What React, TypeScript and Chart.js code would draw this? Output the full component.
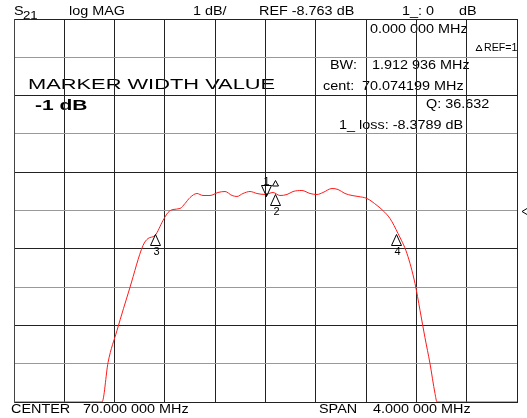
import React, { useEffect, useRef } from "react";
import { Chart, registerables } from "chart.js";

Chart.register(...registerables);

// Trace: frequency (MHz) and magnitude (dB)
const FREQ_MHZ = [
  68.0, 68.7, 68.748, 68.819, 68.922, 69.026, 69.066, 69.121, 69.185, 69.225,
  69.264, 69.32, 69.36, 69.4, 69.455, 69.503, 69.559, 69.622, 69.678, 69.734,
  69.773, 69.821, 69.877, 69.932, 69.996, 70.06, 70.115, 70.171, 70.219, 70.29,
  70.354, 70.41, 70.457, 70.529, 70.577, 70.632, 70.688, 70.736, 70.807, 70.887,
  70.934, 70.99, 71.054, 71.125, 71.189, 71.229, 71.268, 71.308, 71.348, 71.364,
  72.0,
];
const TRACE_DB = [
  -13.763, -13.763, -12.732, -11.896, -10.773, -9.677, -9.494, -9.416, -9.024, -8.815,
  -8.737, -8.711, -8.58, -8.424, -8.319, -8.371, -8.371, -8.293, -8.267, -8.371,
  -8.397, -8.319, -8.267, -8.319, -8.345, -8.293, -8.371, -8.345, -8.267, -8.241,
  -8.319, -8.345, -8.293, -8.189, -8.215, -8.319, -8.371, -8.397, -8.45, -8.632,
  -8.763, -8.972, -9.364, -9.886, -10.669, -11.374, -12.079, -12.758, -13.541, -13.763,
  -13.763,
];

// Markers
const MARKER_LABELS = ["1", "2", "3", "4"];
const MARKER_FREQ = [70.0, 70.074199, 69.118, 71.04];
const MARKER_DB = [-8.3789, -8.33, -9.3789, -9.3789];

// Axes
const REF_DB = -8.763;
const X_TICKS = [68.0, 68.4, 68.8, 69.2, 69.6, 70.0, 70.4, 70.8, 71.2, 71.6, 72.0];
const Y_TICKS = [-13.763, -12.763, -11.763, -10.763, -9.763, -8.763, -7.763, -6.763, -5.763, -4.763, -3.763];

// Texts
const HEADER_TEXTS = ["log MAG", "1 dB/", "REF -8.763 dB", "1_: 0", "dB"];
const INFO_TEXTS = [
  "0.000 000 MHz",
  "BW:",
  "1.912 936 MHz",
  "cent:",
  "70.074199 MHz",
  "Q: 36.632",
  "1_ loss: -8.3789 dB",
];
const REF_LABEL = "REF=1";
const FOOTER_TEXTS = ["CENTER", "70.000 000 MHz", "SPAN", "4.000 000 MHz"];

const FONT = '"Liberation Sans", Arial, sans-serif';

function txt(
  ctx: CanvasRenderingContext2D,
  s: string,
  x: number,
  y: number,
  size: number,
  sx = 1.2,
  weight = "normal"
) {
  ctx.save();
  ctx.font = `${weight} ${size}px ${FONT}`;
  ctx.fillStyle = "#000";
  ctx.textBaseline = "alphabetic";
  ctx.textAlign = "left";
  ctx.translate(x, y);
  ctx.scale(sx, 1);
  ctx.fillText(s, 0, 0);
  ctx.restore();
}

function drawSmallDelta(ctx: CanvasRenderingContext2D, cx: number, by: number) {
  ctx.save();
  ctx.strokeStyle = "#000";
  ctx.lineWidth = 1;
  ctx.beginPath();
  ctx.moveTo(cx - 3, by - 0.5);
  ctx.lineTo(cx + 3, by - 0.5);
  ctx.lineTo(cx, by - 6);
  ctx.closePath();
  ctx.stroke();
  ctx.restore();
}

const textPlugin = {
  id: "texts",
  beforeDraw(chart: any) {
    const ctx: CanvasRenderingContext2D = chart.ctx;
    // header
    txt(ctx, "S", 14, 15, 12);
    txt(ctx, "21", 23, 19, 11);
    const hx = [69, 193, 259, 402, 459];
    HEADER_TEXTS.forEach((t, i) => txt(ctx, t, hx[i], 15, 12));
    // info block
    const pos = [
      [370, 33],
      [330, 69],
      [372, 69],
      [323, 90],
      [362, 90],
      [426, 108],
      [339, 129],
    ];
    INFO_TEXTS.forEach((t, i) => txt(ctx, t, pos[i][0], pos[i][1], 12));
    drawSmallDelta(ctx, 479, 51);
    txt(ctx, REF_LABEL, 484, 51, 11, 0.97);
    // big texts
    txt(ctx, "MARKER WIDTH VALUE", 28, 89, 14, 1.56);
    txt(ctx, "-1 dB", 35, 110, 14, 1.5, "bold");
    // footer
    const fx = [11, 83, 319, 373];
    FOOTER_TEXTS.forEach((t, i) => txt(ctx, t, fx[i], 413, 12));
  },
};

const markerPlugin = {
  id: "markers",
  afterDatasetsDraw(chart: any) {
    const ctx: CanvasRenderingContext2D = chart.ctx;
    const xs = chart.scales.x;
    const ys = chart.scales.y;
    ctx.save();
    ctx.strokeStyle = "#000";
    ctx.lineWidth = 1;
    MARKER_LABELS.forEach((lab, i) => {
      const px = Math.round(xs.getPixelForValue(MARKER_FREQ[i])) + 0.5;
      const py = Math.round(ys.getPixelForValue(MARKER_DB[i])) + 0.5;
      ctx.beginPath();
      if (i === 0) {
        ctx.moveTo(px, py);
        ctx.lineTo(px - 5, py - 11);
        ctx.lineTo(px + 5, py - 11);
        ctx.closePath();
        ctx.stroke();
        ctx.fillStyle = "#000";
        ctx.fillRect(px - 1.5, py - 3, 2, 3);
        txt(ctx, lab, px - 3, py - 12, 11, 1.0);
        drawSmallDelta(ctx, px + 9, py - 10);
      } else {
        ctx.moveTo(px, py);
        ctx.lineTo(px - 5, py + 11);
        ctx.lineTo(px + 5, py + 11);
        ctx.closePath();
        ctx.stroke();
        txt(ctx, lab, px - 2, py + 20, 11, 1.0);
      }
    });
    // reference position indicator on right edge
    const ry = Math.round(ys.getPixelForValue(REF_DB)) + 0.5;
    const rx = chart.chartArea.right + 5;
    ctx.beginPath();
    ctx.moveTo(rx + 5, ry - 3);
    ctx.lineTo(rx, ry);
    ctx.lineTo(rx + 5, ry + 3);
    ctx.stroke();
    ctx.restore();
  },
};

export default function App() {
  const ref = useRef<HTMLCanvasElement | null>(null);
  useEffect(() => {
    document.body.style.margin = "0";
    const canvas = ref.current!;
    const chart = new Chart(canvas, {
      type: "line",
      data: {
        datasets: [
          {
            data: FREQ_MHZ.map((f, i) => ({ x: f, y: TRACE_DB[i] })),
            borderColor: "#ff1a1a",
            borderWidth: 1,
            pointRadius: 0,
            tension: 0.35,
            cubicInterpolationMode: "monotone",
            fill: false,
          },
        ],
      },
      options: {
        animation: false,
        responsive: false,
        devicePixelRatio: 1,
        layout: { padding: { left: 14, right: 10, top: 19, bottom: 16 } },
        plugins: {
          legend: { display: false },
          tooltip: { enabled: false },
        },
        scales: {
          x: {
            type: "linear",
            min: 68,
            max: 72,
            afterBuildTicks: (s: any) => {
              s.ticks = X_TICKS.map((v) => ({ value: v }));
            },
            ticks: { display: false },
            grid: { color: "#222", lineWidth: 1, drawTicks: false },
            border: { display: true, color: "#222" },
          },
          y: {
            type: "linear",
            min: Y_TICKS[0],
            max: Y_TICKS[Y_TICKS.length - 1],
            afterBuildTicks: (s: any) => {
              s.ticks = Y_TICKS.map((v) => ({ value: v }));
            },
            ticks: { display: false },
            grid: {
              color: (c: any) => (c.index % 2 === 0 ? "#222" : "#999"),
              lineWidth: 1,
              drawTicks: false,
            },
            border: { display: true, color: "#444" },
          },
        },
      },
      plugins: [textPlugin, markerPlugin],
    } as any);
    return () => chart.destroy();
  }, []);
  return (
    <div style={{ width: 527, height: 418 }}>
      <canvas ref={ref} width={527} height={418} />
    </div>
  );
}
